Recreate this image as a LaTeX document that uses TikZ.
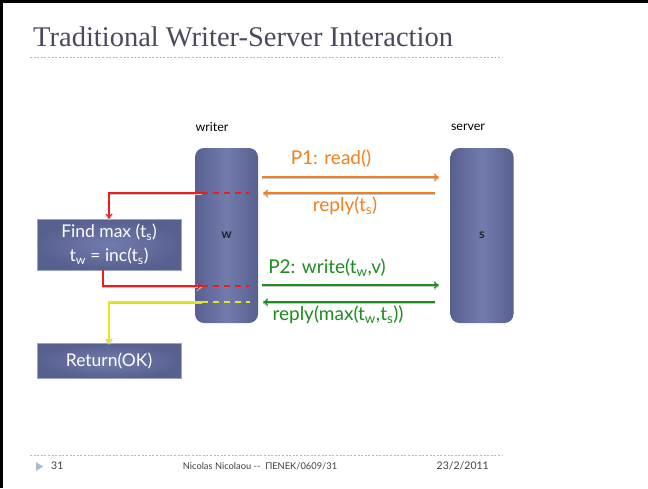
\documentclass[tikz,border=0pt]{standalone}
\usepackage{fontspec}
\setmainfont{Lato}
\newfontfamily\titlefont{Liberation Serif}
\usetikzlibrary{arrows.meta}
\definecolor{slate}{HTML}{586090}
\definecolor{slatelight}{HTML}{727CAC}
\definecolor{orng}{HTML}{F28022}
\definecolor{grn}{HTML}{1E8C1E}
\definecolor{rd}{HTML}{EE1C1C}
\definecolor{ylw}{HTML}{E6E61A}
\definecolor{dotc}{HTML}{A9BDD2}
\definecolor{titlec}{HTML}{4A4A5C}
\definecolor{footc}{HTML}{404040}
\tikzset{
  column/.style={rounded corners=9pt, left color=slate, right color=slate, middle color=slatelight,
    minimum width=63pt, minimum height=175pt, font=\fontsize{13}{14}\selectfont\bfseries, text=black!85, inner sep=0pt},
  box/.style={inner color=slatelight, outer color=slate, draw=slatelight!70!white, line width=0.5pt,
    minimum width=144pt, text=white, align=center, font=\fontsize{17.5}{24}\selectfont, inner sep=0pt},
  lbl/.style={font=\fontsize{19}{22}\selectfont, inner sep=0pt},
  sdw/.style={preaction={draw=gray!45, line width=1pt, transform canvas={yshift=-1.6pt}}},
  msg/.style={sdw, line width=1.2pt, -{To[length=5pt,width=7pt]}},
  dsh/.style={line width=1.1pt, dash pattern=on 6pt off 5pt},
  dotl/.style={dotc, line width=0.8pt, dash pattern=on 2pt off 1.6pt},
  hdr/.style={font=\fontsize{12.5}{14}\selectfont, inner sep=0pt}
}
\begin{document}
\begin{tikzpicture}[x=1pt,y=-1pt]
\useasboundingbox (0,0) rectangle (648,488);
\fill[white] (0,0) rectangle (648,488);
\fill[black] (0,0) rectangle (648,3);
\fill[black] (0,0) rectangle (3,488);

% title
\node[anchor=base west, inner sep=0pt, text=titlec, font=\titlefont\fontsize{28.5}{30}\selectfont] (title) at (33,46) {Traditional Writer-Server Interaction};
\coordinate (tl1) at (30,57); \coordinate (tl2) at (503,57);
\draw[dotl] (tl1) -- (tl2);

% columns
\node[hdr] (wlab) at (212,127) {writer};
\node[hdr] (slab) at (468,127) {server};
\node[column] (W) at (226.5,235.5) {w};
\node[column] (S) at (482,235.5) {s};

% boxes
\node[box, minimum height=51pt] (F) at (109,244.5) {Find max (t\textsubscript{s})\\t\textsubscript{w} = inc(t\textsubscript{s})};
\node[box, minimum height=35pt] (R) at (109,361) {Return(OK)};

% messages
\coordinate (a1s) at (262,177); \coordinate (a1e) at (439,177);
\coordinate (a2s) at (435,193); \coordinate (a2e) at (263,193);
\coordinate (a3s) at (262,285); \coordinate (a3e) at (439,285);
\coordinate (a4s) at (435,302); \coordinate (a4e) at (263,302);
\draw[msg, orng] (a1s) -- (a1e);
\draw[msg, orng] (a2s) -- (a2e);
\draw[msg, grn] (a3s) -- (a3e);
\draw[msg, grn] (a4s) -- (a4e);
\node[lbl, text=orng] (l1) at (331,159) {P1: read()};
\node[lbl, text=orng] (l2) at (345,206) {reply(t\textsubscript{s})};
\node[lbl, text=grn] (l3) at (327,268) {P2: write(t\textsubscript{w},v)};
\node[lbl, text=grn] (l4) at (338,315) {reply(max(t\textsubscript{w},t\textsubscript{s}))};

% local steps
\coordinate (r1) at (202,193); \coordinate (r1e) at (250,193);
\coordinate (r2) at (202,286); \coordinate (r2e) at (250,286);
\coordinate (y1) at (202,302); \coordinate (y1e) at (250,302);
\draw[dsh, rd] (r1) -- (r1e);
\draw[dsh, rd] (r2) -- (r2e);
\draw[dsh, ylw] (y1) -- (y1e);
\draw[msg, rd] (r1) -| (F.north);
\draw[msg, rd] ([xshift=-6pt]F.south) |- (r2);
\draw[msg, ylw] (y1) -| (R.north);

% footer
\coordinate (fl1) at (30,455); \coordinate (fl2) at (503,455);
\draw[dotl] (fl1) -- (fl2);
\fill[dotc] (36,462) -- (43,466.5) -- (36,471) -- cycle;
\node[anchor=west, inner sep=0pt, text=footc, font=\fontsize{10.5}{12}\selectfont] (pg) at (51,466) {31};
\node[inner sep=0pt, text=footc, font=\fontsize{9.3}{12}\selectfont] (auth) at (260,466) {Nicolas Nicolaou -{}-\ \ ΠΕΝΕΚ/0609/31};
\node[anchor=east, inner sep=0pt, text=footc, font=\fontsize{10.5}{12}\selectfont] (date) at (489,466) {23/2/2011};
\end{tikzpicture}
\end{document}
